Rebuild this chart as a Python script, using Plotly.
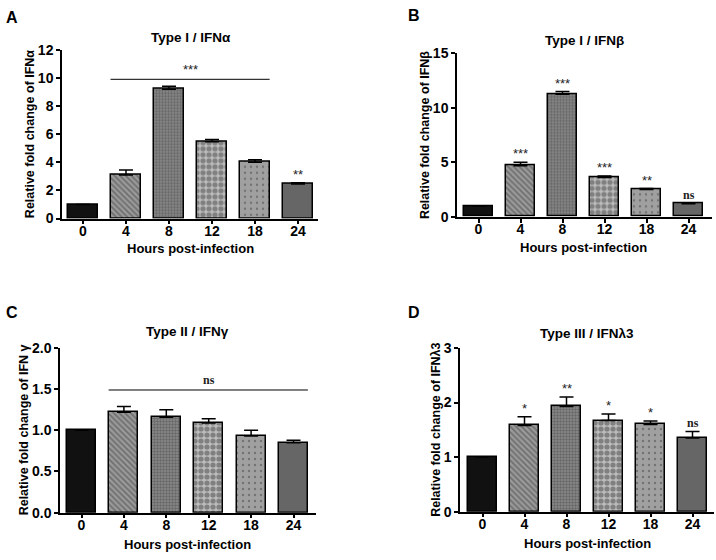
import plotly.graph_objects as go

categories = ["0", "4", "8", "12", "18", "24"]

ifna_mean = [1.0, 3.1, 9.2, 5.45, 4.0, 2.45]
ifna_err = [0.0, 0.35, 0.2, 0.17, 0.18, 0.1]

ifnb_mean = [1.0, 4.7, 11.25, 3.6, 2.5, 1.2]
ifnb_err = [0.0, 0.3, 0.25, 0.15, 0.1, 0.05]

ifng_mean = [1.0, 1.22, 1.16, 1.09, 0.93, 0.85]
ifng_err = [0.0, 0.07, 0.09, 0.05, 0.07, 0.03]

ifnl_mean = [1.0, 1.58, 1.93, 1.67, 1.6, 1.35]
ifnl_err = [0.0, 0.16, 0.17, 0.12, 0.06, 0.12]

sig_b = ["", "***", "***", "***", "**", "ns"]
sig_d = ["", "*", "**", "*", "*", "ns"]

W, H = 716, 560
BOLD = dict(family="Liberation Sans, Arial, sans-serif", weight="bold", color="black")

bar_colors = ["#111111", "#9a9a9a", "#8a8a8a", "#bcbcbc", "#a0a0a0", "#666666"]
pat_shapes = ["", "\\", ".", ".", ".", ""]
pat_fg = ["#111111", "#222222", "#333333", "#151515", "#555555", "#666666"]
pat_size = [6, 4, 3, 6, 6, 6]
pat_sol = [0.3, 0.45, 0.5, 0.6, 0.12, 0.3]

panels = [
    dict(mean=ifna_mean, err=ifna_err, ymax=12, dtick=2, x0=62, x1=318, c0=83, step=43,
         yt=43, yb=216.7, title="Type I / IFNα", ylab="Relative fold change of IFNα",
         letter="A", lx=4, ly=10, tx=191, ty=30, ytx=30, xtt=248),
    dict(mean=ifnb_mean, err=ifnb_err, ymax=15, dtick=5, x0=457, x1=712, c0=478.5, step=42,
         yt=46.7, yb=215, title="Type I / IFNβ", ylab="Relative fold change of IFNβ",
         letter="B", lx=406, ly=8, tx=584, ty=33, ytx=425, xtt=247),
    dict(mean=ifng_mean, err=ifng_err, ymax=2.0, dtick=0.5, x0=60, x1=316, c0=81.5, step=42.4,
         yt=350, yb=519.5, title="Type II / IFNγ", ylab="Relative fold change of IFN γ",
         letter="C", lx=4, ly=313, tx=187, ty=333, ytx=24, xtt=552),
    dict(mean=ifnl_mean, err=ifnl_err, ymax=3, dtick=1, x0=460, x1=714, c0=482.5, step=42,
         yt=350, yb=518.5, title="Type III / IFNλ3", ylab="Relative fold change of IFNλ3",
         letter="D", lx=406, ly=313, tx=587, ty=335, ytx=436, xtt=551),
]

fig = go.Figure()
annotations = []
shapes = []

for i, p in enumerate(panels):
    n = i + 1
    xa = "x" if n == 1 else f"x{n}"
    ya = "y" if n == 1 else f"y{n}"
    xr0 = (p["x0"] - p["c0"]) / p["step"]
    xr1 = (p["x1"] - p["c0"]) / p["step"]
    fig.add_trace(go.Bar(
        x=list(range(len(categories))), y=p["mean"], width=0.68,
        xaxis=xa, yaxis=ya, showlegend=False, hoverinfo="skip",
        marker=dict(color=bar_colors, line=dict(color="black", width=1.5),
                    pattern=dict(shape=pat_shapes, fgcolor=pat_fg, size=pat_size,
                                 solidity=pat_sol, fillmode="overlay")),
        error_y=dict(type="data", symmetric=False, array=p["err"],
                     arrayminus=[0] * len(categories), color="black", thickness=1.5, width=7),
    ))
    axkw = dict(showline=True, linecolor="black", linewidth=1.5, ticks="outside",
                ticklen=4, tickwidth=1.5, tickcolor="black", showgrid=False, zeroline=False,
                tickfont=dict(size=14, **BOLD))
    fig.layout[("xaxis" if n == 1 else f"xaxis{n}")] = dict(
        domain=[p["x0"] / W, p["x1"] / W], range=[xr0, xr1], anchor=ya,
        tickvals=list(range(len(categories))), ticktext=categories,
        ticklabelstandoff=-5, **axkw)
    fig.layout[("yaxis" if n == 1 else f"yaxis{n}")] = dict(
        domain=[1 - p["yb"] / H, 1 - p["yt"] / H], range=[0, p["ymax"]], anchor=xa,
        dtick=p["dtick"], tickformat=".1f" if p["dtick"] < 1 else "d", **axkw)
    annotations += [
        dict(text=p["letter"], x=p["lx"] / W, y=1 - p["ly"] / H, xref="paper", yref="paper",
             xanchor="left", yanchor="middle", showarrow=False, font=dict(size=16, **BOLD)),
        dict(text=p["title"], x=p["tx"] / W, y=1 - p["ty"] / H, xref="paper", yref="paper",
             xanchor="center", yanchor="middle", showarrow=False, font=dict(size=13.5, **BOLD)),
        dict(text=p["ylab"], x=p["ytx"] / W, y=1 - (p["yt"] + p["yb"]) / 2 / H,
             xref="paper", yref="paper", xanchor="center", yanchor="middle", textangle=-90,
             showarrow=False, font=dict(size=12.5, **BOLD)),
        dict(text="Hours post-infection", x=(p["c0"] + 2.5 * p["step"]) / W,
             y=1 - p["xtt"] / H, xref="paper", yref="paper", xanchor="center",
             yanchor="middle", showarrow=False, font=dict(size=13, **BOLD)),
    ]

STAR = dict(family="Liberation Sans, Arial, sans-serif", size=13, color="#222")
NS = dict(family="Liberation Serif, Times New Roman, serif", size=12, color="#222", weight="bold")

shapes.append(dict(type="line", xref="x", yref="y", x0=1 - 0.36, x1=4 + 0.34, y0=9.9, y1=9.9,
                   line=dict(color="black", width=1)))
annotations.append(dict(text="***", x=2.5, y=9.9, xref="x", yref="y", yanchor="bottom",
                        showarrow=False, font=STAR, yshift=0))
annotations.append(dict(text="**", x=5, y=ifna_mean[5] + ifna_err[5], xref="x", yref="y",
                        yanchor="bottom", showarrow=False, font=STAR, yshift=-1))

for j, s in enumerate(sig_b):
    if s:
        annotations.append(dict(text=s, x=j, y=ifnb_mean[j] + ifnb_err[j], xref="x2", yref="y2",
                                yanchor="bottom", showarrow=False,
                                font=NS if s == "ns" else STAR, yshift=-1))

shapes.append(dict(type="line", xref="x3", yref="y3", x0=1 - 0.36, x1=5 + 0.34, y0=1.49, y1=1.49,
                   line=dict(color="black", width=1)))
annotations.append(dict(text="ns", x=3.0, y=1.49, xref="x3", yref="y3", yanchor="bottom",
                        showarrow=False, font=NS, yshift=1))

for j, s in enumerate(sig_d):
    if s:
        annotations.append(dict(text=s, x=j, y=ifnl_mean[j] + ifnl_err[j], xref="x4", yref="y4",
                                yanchor="bottom", showarrow=False,
                                font=NS if s == "ns" else STAR, yshift=-1))

fig.update_layout(width=W, height=H, autosize=False, margin=dict(l=0, r=0, t=0, b=0),
                  paper_bgcolor="white", plot_bgcolor="white", bargap=0,
                  annotations=annotations, shapes=shapes)

fig.write_html("out.html", config={"displayModeBar": False},
               post_script="document.body.style.margin='0';")
